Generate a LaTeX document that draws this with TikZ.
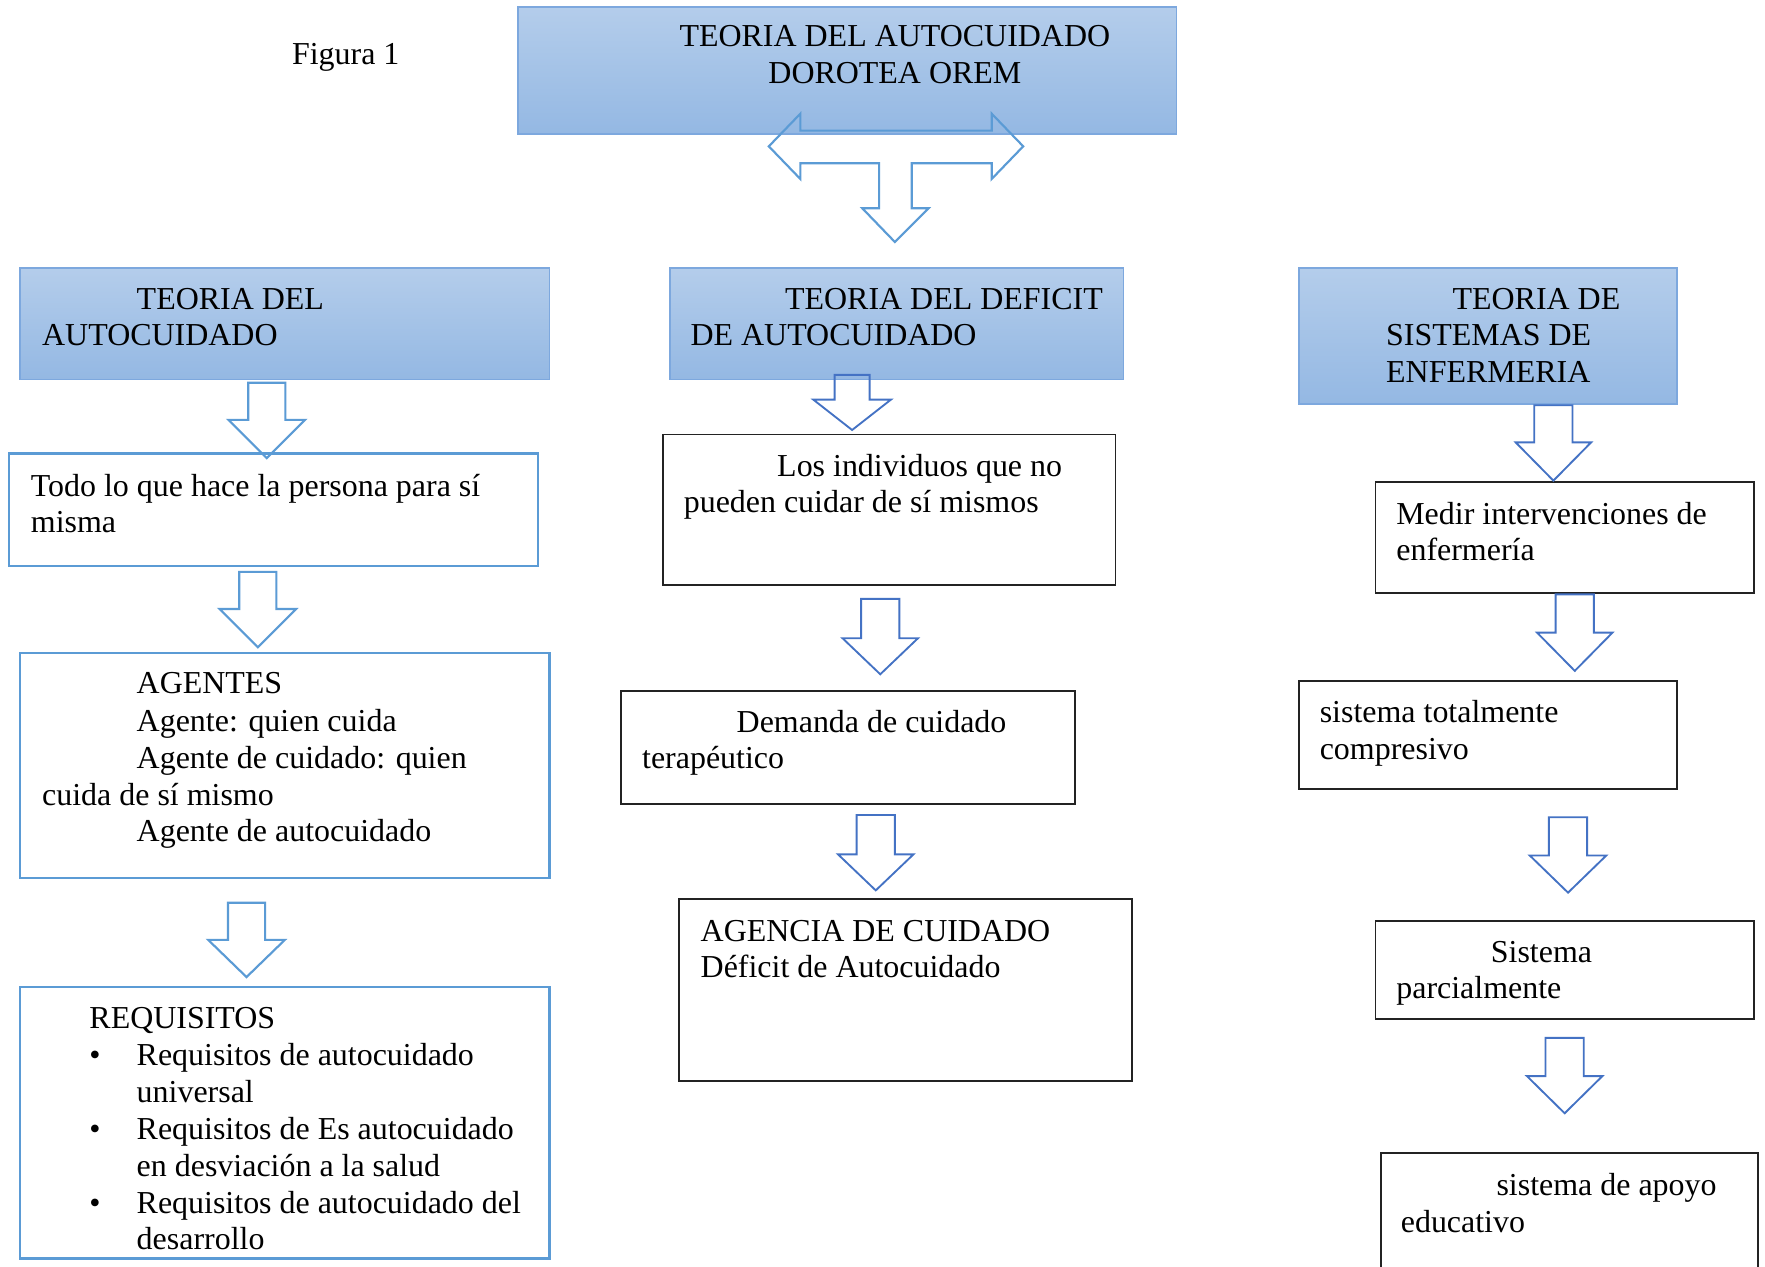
\documentclass[tikz,border=0pt]{standalone}
\usepackage{fontspec}
\setmainfont{Liberation Serif}
\usetikzlibrary{fit}
\definecolor{hdrtop}{RGB}{180,205,235}
\definecolor{hdrbot}{RGB}{148,184,227}
\definecolor{hdrline}{RGB}{125,168,222}
\definecolor{lblue}{RGB}{91,155,213}
\definecolor{dblue}{RGB}{68,114,196}
\definecolor{boxdark}{RGB}{35,35,35}
\newcommand\tline[4]{\node[txt] (#1) at (#2,#3) {#4};}
\newcommand\blkdown[7]{%
  \draw[#7] ({#1-#5},#2) -- ({#1+#5},#2) -- ({#1+#5},#3) -- ({#1+#6},#3) -- (#1,#4)
    -- ({#1-#6},#3) -- ({#1-#5},#3) -- cycle;}
\begin{document}
\begin{tikzpicture}[x=0.4228pt,y=-0.4228pt,
  hdr/.style={draw=hdrline, line width=0.6pt, top color=hdrtop, bottom color=hdrbot, inner sep=0pt},
  bluebox/.style={draw=lblue, line width=0.9pt, fill=white, inner sep=0pt},
  darkbox/.style={draw=boxdark, line width=0.7pt, fill=white, inner sep=0pt},
  txt/.style={anchor=base west, inner sep=0pt, font=\fontsize{12}{14}\selectfont},
  ctxt/.style={txt, anchor=base},
  blkL/.style={draw=lblue, line width=0.8pt, line join=miter},
  blkD/.style={draw=dblue, line width=0.7pt, line join=miter},
]
\useasboundingbox (0,0) rectangle (1568,1125);
\fill[white] (0,0) rectangle (1568,1125);

% title
\tline{fig}{259}{57}{Figura 1}

% top header
\node[hdr, fit={(460,6) (1045,119)}] (top) {};
\node[ctxt] (topa) at (795,41) {TEORIA DEL AUTOCUIDADO};
\node[ctxt] (topb) at (795,74) {DOROTEA OREM};

% triple arrow
\draw[blkL] (683,130) -- (711,101) -- (711,116) -- (881,116) -- (881,101) -- (909,130)
  -- (881,159) -- (881,145) -- (810,145) -- (810,185) -- (825,185) -- (795,215)
  -- (766,185) -- (781,185) -- (781,145) -- (711,145) -- (711,159) -- cycle;

% second level headers
\node[hdr, fit={(18,238) (488,337)}] (hL) {};
\tline{hLa}{121}{275}{TEORIA DEL}
\tline{hLb}{37}{307}{AUTOCUIDADO}

\node[hdr, fit={(595,238) (998,337)}] (hM) {};
\tline{hMa}{697}{275}{TEORIA DEL DEFICIT}
\tline{hMb}{613}{307}{DE AUTOCUIDADO}

\node[hdr, fit={(1154,238) (1490,359)}] (hR) {};
\tline{hRa}{1290}{275}{TEORIA DE}
\tline{hRb}{1231}{307}{SISTEMAS DE}
\tline{hRc}{1231}{340}{ENFERMERIA}

% left column
\node[bluebox, fit={(8,403) (478,503)}] (L1) {};
\tline{L1a}{27}{441}{Todo lo que hace la persona para sí}
\tline{L1b}{27}{473}{misma}

\node[bluebox, fit={(18,580) (488,780)}] (L2) {};
\tline{L2a}{121}{616}{AGENTES}
\tline{L2b}{121}{650}{Agente: quien cuida}
\tline{L2c}{121}{683}{Agente de cuidado: quien}
\tline{L2d}{37}{716}{cuida de sí mismo}
\tline{L2e}{121}{748}{Agente de autocuidado}

\node[bluebox, fit={(18,877) (488,1118)}] (L3) {};
\tline{L3a}{79}{914}{REQUISITOS}
\tline{L3b1}{79}{947}{\textbullet}
\tline{L3b}{121}{947}{Requisitos de autocuidado}
\tline{L3c}{121}{979}{universal}
\tline{L3d1}{79}{1012}{\textbullet}
\tline{L3d}{121}{1012}{Requisitos de Es autocuidado}
\tline{L3e}{121}{1045}{en desviación a la salud}
\tline{L3f1}{79}{1078}{\textbullet}
\tline{L3f}{121}{1078}{Requisitos de autocuidado del}
\tline{L3g}{121}{1110}{desarrollo}

\blkdown{237}{340}{373}{407}{16.5}{34}{blkL}
\blkdown{229}{508}{541}{575}{16.5}{34}{blkL}
\blkdown{219}{802}{835}{868}{16.5}{34}{blkL}

% middle column
\node[darkbox, fit={(589,386) (991,520)}] (M1) {};
\tline{M1a}{690}{423}{Los individuos que no}
\tline{M1b}{607}{455}{pueden cuidar de sí mismos}

\node[darkbox, fit={(552,614) (955,714)}] (M2) {};
\tline{M2a}{654}{651}{Demanda de cuidado}
\tline{M2b}{570}{683}{terapéutico}

\node[darkbox, fit={(603,799) (1006,960)}] (M3) {};
\tline{M3a}{622}{836}{AGENCIA DE CUIDADO}
\tline{M3b}{622}{868}{Déficit de Autocuidado}

\blkdown{757}{333}{355}{382}{15.5}{34.5}{blkD}
\blkdown{782}{532}{567}{599}{17}{33.5}{blkD}
\blkdown{778}{724}{759}{791}{17}{33.5}{blkD}

% right column
\node[darkbox, fit={(1222,428) (1558,527)}] (R1) {};
\tline{R1a}{1240}{466}{Medir intervenciones de}
\tline{R1b}{1240}{498}{enfermería}

\node[darkbox, fit={(1154,605) (1490,701)}] (R2) {};
\tline{R2a}{1172}{642}{sistema totalmente}
\tline{R2b}{1172}{675}{compresivo}

\node[darkbox, fit={(1222,818) (1558,905)}] (R3) {};
\tline{R3a}{1324}{855}{Sistema}
\tline{R3b}{1240}{887}{parcialmente}

\node[darkbox, fit={(1227,1024) (1562,1132)}] (R4) {};
\tline{R4a}{1329}{1062}{sistema de apoyo}
\tline{R4b}{1244}{1095}{educativo}

\blkdown{1380}{360}{393}{427}{17}{33.5}{blkD}
\blkdown{1399}{528}{562}{596}{17}{33.5}{blkD}
\blkdown{1393}{726}{760}{793}{17}{34}{blkD}
\blkdown{1390}{922}{956}{989}{17}{33.5}{blkD}
\end{tikzpicture}
\end{document}
